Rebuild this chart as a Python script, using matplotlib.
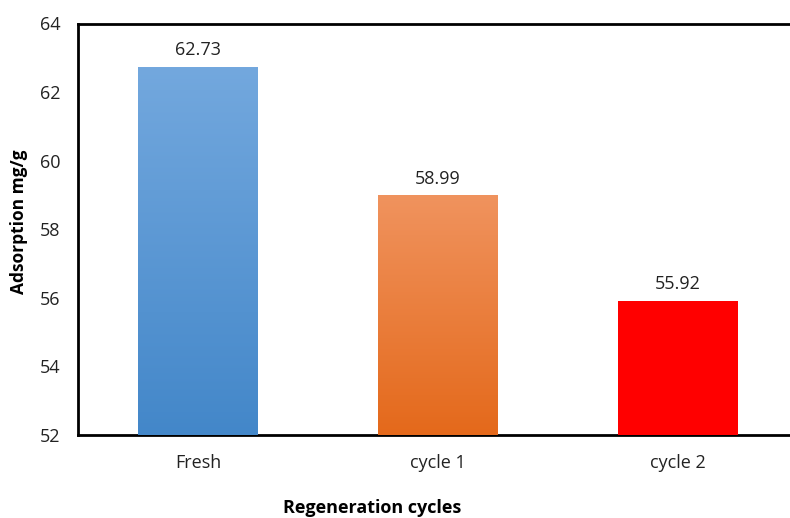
import matplotlib
matplotlib.use("Agg")
import matplotlib.pyplot as plt
import numpy as np
from matplotlib.colors import LinearSegmentedColormap

categories = ["Fresh", "cycle 1", "cycle 2"]
values = [62.73, 58.99, 55.92]
labels = ["62.73", "58.99", "55.92"]
yticks = [52, 54, 56, 58, 60, 62, 64]

top_colors = ["#73A8DE", "#F0935E", "#FF0000"]
bottom_colors = ["#4387C9", "#E4691B", "#FF0000"]

plt.rcParams['font.family'] = ['Open Sans', 'DejaVu Sans']

fig = plt.figure(figsize=(7.9, 5.18), dpi=100)
ax = fig.add_axes([78/790, 83/518, 1 - 78/790, (435-23.5)/518])

x = np.arange(len(categories))
w = 0.5
bars = ax.bar(x, [v - 52 for v in values], bottom=52, width=w, color=bottom_colors, zorder=2)
for i, b in enumerate(bars):
    cmap = LinearSegmentedColormap.from_list("g%d" % i, [bottom_colors[i], top_colors[i]])
    grad = np.linspace(0, 1, 256).reshape(-1, 1)
    im = ax.imshow(grad, extent=[x[i]-w/2, x[i]+w/2, 52, values[i]], origin='lower',
                   aspect='auto', cmap=cmap, zorder=3)
    im.set_clip_path(b)
    ax.annotate(labels[i], (x[i], values[i]), xytext=(0, 12), textcoords='offset points',
                ha='center', va='center', fontsize=13, color='#222222')

ax.set_xlim(-0.5, -0.5 + 712/240)
ax.set_ylim(52, 64)
ax.set_yticks(yticks)
ax.set_xticks(x)
ax.set_xticklabels(categories)
ax.tick_params(axis='both', length=0, labelsize=13, colors='#222222')
ax.tick_params(axis='y', pad=12.5)
ax.tick_params(axis='x', pad=14)
for s in ['left', 'top', 'bottom']:
    ax.spines[s].set_linewidth(2)
    ax.spines[s].set_color('black')
ax.spines['right'].set_visible(False)

fig.text(19/790, 1 - 222/518, "Adsorption mg/g", ha='center', va='center', rotation=90,
         fontsize=12.5, fontweight='bold')
fig.text(372/790, 1 - 508/518, "Regeneration cycles", ha='center', va='center', fontsize=13, fontweight='bold')

fig.savefig("out.png", dpi=100)
